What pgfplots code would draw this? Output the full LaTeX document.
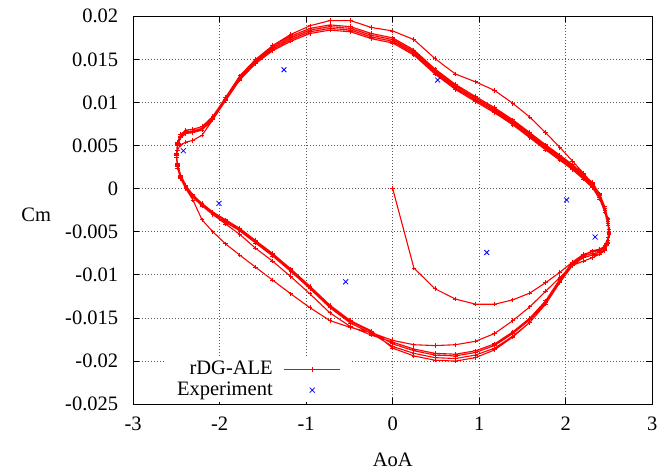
\documentclass[border=0pt]{standalone}
\usepackage{fontspec}
\setmainfont{Liberation Serif}
\usepackage{pgfplots}
\pgfplotsset{compat=1.18}
\begin{document}
\fontsize{20.5}{24}\selectfont
\begin{tikzpicture}[font=\fontsize{20.5}{24}\selectfont]
\useasboundingbox (-133.2pt,-66.8pt) rectangle (527.8pt,404.2pt);
\begin{axis}[
  at={(0pt,0pt)}, anchor=south west,
  scale only axis, width=519pt, height=387.9pt,
  xmin=-3, xmax=3, ymin=-0.025, ymax=0.02,
  xtick={-3,-2,-1,0,1,2,3},
  ytick={-0.025,-0.02,-0.015,-0.01,-0.005,0,0.005,0.01,0.015,0.02},
  scaled y ticks=false, scaled x ticks=false,
  /pgf/number format/assume math mode=true,
  yticklabel style={/pgf/number format/fixed, /pgf/number format/precision=3, xshift=-8pt},
  xticklabel style={yshift=-6pt},
  tick align=inside, major tick length=6pt,
  tick style={black, line width=0.8pt},
  axis line style={black, line width=1pt},
  grid=major,
  grid style={black!65, line width=0.9pt, dash pattern=on 0.9pt off 2.1pt},
  xlabel={AoA}, ylabel={Cm},
  every axis x label/.style={at={(axis description cs:0.5,-0.144)}, anchor=center},
  every axis y label/.style={at={(axis description cs:-0.187,0.488)}, anchor=center},
  legend plot pos=right,
  legend cell align=right,
  legend style={draw=none, fill=white, at={(axis description cs:0.4216,0.1217)}, anchor=north east,
    inner xsep=11pt, inner ysep=2pt, column sep=9pt, nodes={inner sep=2pt}},
  legend image code/.code={\draw[mark repeat=2,mark phase=2,#1] plot coordinates {(0pt,0pt) (28pt,0pt) (56pt,0pt)};},
]
\addplot[red, line width=1.1pt, mark=+, mark size=2.2pt, mark options={line width=0.8pt}] coordinates {
(0.000,0.0000) (0.245,-0.0092) (0.488,-0.0116) (0.726,-0.0128) (0.957,-0.0134) (1.178,-0.0134) (1.389,-0.0129) (1.586,-0.0121)
(1.768,-0.0109) (1.932,-0.0097) (2.079,-0.0085) (2.205,-0.0080) (2.310,-0.0077) (2.392,-0.0073) (2.452,-0.0066) (2.488,-0.0057)
(2.500,-0.0047) (2.488,-0.0035) (2.452,-0.0021) (2.392,-0.0007) (2.310,0.0006) (2.205,0.0018) (2.079,0.0032) (1.932,0.0048)
(1.768,0.0065) (1.586,0.0083) (1.389,0.0099) (1.178,0.0114) (0.957,0.0124) (0.726,0.0133) (0.488,0.0151) (0.245,0.0173)
(0.000,0.0183) (-0.245,0.0187) (-0.488,0.0195) (-0.726,0.0195) (-0.957,0.0189) (-1.178,0.0179) (-1.389,0.0166) (-1.586,0.0148)
(-1.768,0.0128) (-1.932,0.0103) (-2.079,0.0080) (-2.205,0.0062) (-2.310,0.0056) (-2.392,0.0054) (-2.452,0.0051) (-2.488,0.0045)
(-2.500,0.0036) (-2.488,0.0024) (-2.452,0.0012) (-2.392,0.0000) (-2.310,-0.0013) (-2.205,-0.0036) (-2.079,-0.0050) (-1.932,-0.0064)
(-1.768,-0.0077) (-1.586,-0.0091) (-1.389,-0.0106) (-1.178,-0.0122) (-0.957,-0.0138) (-0.726,-0.0153) (-0.488,-0.0161) (-0.245,-0.0167)
(0.000,-0.0176) (0.245,-0.0181) (0.488,-0.0182) (0.726,-0.0181) (0.957,-0.0177) (1.178,-0.0168) (1.389,-0.0153) (1.586,-0.0137)
(1.768,-0.0119) (1.932,-0.0103) (2.079,-0.0089) (2.205,-0.0084) (2.310,-0.0080) (2.392,-0.0076) (2.452,-0.0070) (2.488,-0.0062)
(2.500,-0.0051) (2.488,-0.0036) (2.452,-0.0021) (2.392,-0.0006) (2.310,0.0007) (2.205,0.0017) (2.079,0.0028) (1.932,0.0039)
(1.768,0.0051) (1.586,0.0065) (1.389,0.0080) (1.178,0.0094) (0.957,0.0107) (0.726,0.0121) (0.488,0.0139) (0.245,0.0161)
(0.000,0.0175) (-0.245,0.0180) (-0.488,0.0188) (-0.726,0.0190) (-0.957,0.0186) (-1.178,0.0177) (-1.389,0.0166) (-1.586,0.0150)
(-1.768,0.0131) (-1.932,0.0106) (-2.079,0.0084) (-2.205,0.0072) (-2.310,0.0069) (-2.392,0.0068) (-2.452,0.0063) (-2.488,0.0054)
(-2.500,0.0040) (-2.488,0.0027) (-2.452,0.0014) (-2.392,0.0002) (-2.310,-0.0009) (-2.205,-0.0019) (-2.079,-0.0030) (-1.932,-0.0041)
(-1.768,-0.0053) (-1.586,-0.0069) (-1.389,-0.0084) (-1.178,-0.0102) (-0.957,-0.0122) (-0.726,-0.0144) (-0.488,-0.0160) (-0.245,-0.0170)
(0.000,-0.0178) (0.245,-0.0186) (0.488,-0.0191) (0.726,-0.0192) (0.957,-0.0188) (1.178,-0.0180) (1.389,-0.0166) (1.586,-0.0150)
(1.768,-0.0130) (1.932,-0.0105) (2.079,-0.0085) (2.205,-0.0076) (2.310,-0.0073) (2.392,-0.0072) (2.452,-0.0069) (2.488,-0.0062)
(2.500,-0.0051) (2.488,-0.0038) (2.452,-0.0023) (2.392,-0.0008) (2.310,0.0005) (2.205,0.0015) (2.079,0.0026) (1.932,0.0037)
(1.768,0.0049) (1.586,0.0063) (1.389,0.0078) (1.178,0.0092) (0.957,0.0105) (0.726,0.0119) (0.488,0.0137) (0.245,0.0159)
(0.000,0.0173) (-0.245,0.0178) (-0.488,0.0186) (-0.726,0.0188) (-0.957,0.0184) (-1.178,0.0175) (-1.389,0.0164) (-1.586,0.0148)
(-1.768,0.0129) (-1.932,0.0104) (-2.079,0.0082) (-2.205,0.0070) (-2.310,0.0067) (-2.392,0.0066) (-2.452,0.0061) (-2.488,0.0052)
(-2.500,0.0041) (-2.488,0.0028) (-2.452,0.0015) (-2.392,0.0003) (-2.310,-0.0008) (-2.205,-0.0018) (-2.079,-0.0028) (-1.932,-0.0037)
(-1.768,-0.0047) (-1.586,-0.0061) (-1.389,-0.0076) (-1.178,-0.0094) (-0.957,-0.0114) (-0.726,-0.0136) (-0.488,-0.0154) (-0.245,-0.0166)
(0.000,-0.0180) (0.245,-0.0188) (0.488,-0.0193) (0.726,-0.0194) (0.957,-0.0190) (1.178,-0.0182) (1.389,-0.0168) (1.586,-0.0152)
(1.768,-0.0132) (1.932,-0.0107) (2.079,-0.0087) (2.205,-0.0078) (2.310,-0.0075) (2.392,-0.0074) (2.452,-0.0071) (2.488,-0.0063)
(2.500,-0.0052) (2.488,-0.0040) (2.452,-0.0025) (2.392,-0.0010) (2.310,0.0003) (2.205,0.0013) (2.079,0.0024) (1.932,0.0035)
(1.768,0.0047) (1.586,0.0061) (1.389,0.0076) (1.178,0.0090) (0.957,0.0103) (0.726,0.0117) (0.488,0.0135) (0.245,0.0157)
(0.000,0.0171) (-0.245,0.0176) (-0.488,0.0184) (-0.726,0.0186) (-0.957,0.0182) (-1.178,0.0173) (-1.389,0.0162) (-1.586,0.0146)
(-1.768,0.0127) (-1.932,0.0102) (-2.079,0.0080) (-2.205,0.0068) (-2.310,0.0065) (-2.392,0.0064) (-2.452,0.0059) (-2.488,0.0050)
(-2.500,0.0039) (-2.488,0.0026) (-2.452,0.0013) (-2.392,0.0001) (-2.310,-0.0010) (-2.205,-0.0020) (-2.079,-0.0030) (-1.932,-0.0039)
(-1.768,-0.0049) (-1.586,-0.0063) (-1.389,-0.0078) (-1.178,-0.0096) (-0.957,-0.0116) (-0.726,-0.0138) (-0.488,-0.0156) (-0.245,-0.0168)
(0.000,-0.0183) (0.245,-0.0191) (0.488,-0.0196) (0.726,-0.0197) (0.957,-0.0193) (1.178,-0.0185) (1.389,-0.0171) (1.586,-0.0155)
(1.768,-0.0134) (1.932,-0.0109) (2.079,-0.0089) (2.205,-0.0080) (2.310,-0.0077) (2.392,-0.0076) (2.452,-0.0072) (2.488,-0.0064)
(2.500,-0.0053) (2.488,-0.0042) (2.452,-0.0027) (2.392,-0.0012) (2.310,0.0001) (2.205,0.0011) (2.079,0.0022) (1.932,0.0033)
(1.768,0.0045) (1.586,0.0059) (1.389,0.0074) (1.178,0.0088) (0.957,0.0101) (0.726,0.0115) (0.488,0.0133) (0.245,0.0155)
(0.000,0.0169) (-0.245,0.0174) (-0.488,0.0182) (-0.726,0.0184) (-0.957,0.0180) (-1.178,0.0171) (-1.389,0.0160) (-1.586,0.0145)
(-1.768,0.0126) (-1.932,0.0102) (-2.079,0.0081) (-2.205,0.0070) (-2.310,0.0066) (-2.392,0.0065) (-2.452,0.0060) (-2.488,0.0051)
(-2.500,0.0041) (-2.488,0.0029) (-2.452,0.0016) (-2.392,0.0004) (-2.310,-0.0007) (-2.205,-0.0017) (-2.079,-0.0027) (-1.932,-0.0036)
(-1.768,-0.0046) (-1.586,-0.0060) (-1.389,-0.0075) (-1.178,-0.0093) (-0.957,-0.0113) (-0.726,-0.0135) (-0.488,-0.0153) (-0.245,-0.0165)
(0.000,-0.0185) (0.245,-0.0194) (0.488,-0.0199) (0.726,-0.0200) (0.957,-0.0196) (1.178,-0.0187) (1.389,-0.0172) (1.586,-0.0155)
(1.768,-0.0134) (1.932,-0.0108) (2.079,-0.0087) (2.205,-0.0077) (2.310,-0.0072) (2.392,-0.0070) (2.452,-0.0067) (2.488,-0.0060)
(2.500,-0.0050)
};
\addlegendentry{rDG-ALE}
\addplot[blue, only marks, mark=x, mark size=3.5pt, mark options={line width=0.8pt}] coordinates {
(-1.257,0.0138) (0.520,0.0126) (-2.420,0.0044) (-2.008,-0.0017) (-0.543,-0.0108) (1.087,-0.0074) (2.010,-0.0013) (2.340,-0.0056)
};
\addlegendentry{Experiment}
\end{axis}
\end{tikzpicture}
\end{document}
